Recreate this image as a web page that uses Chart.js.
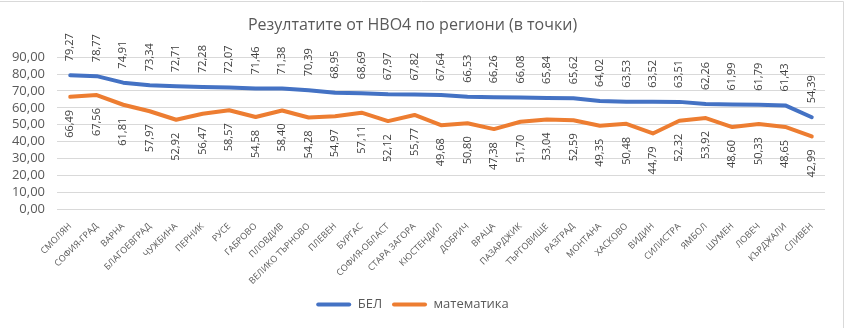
<!DOCTYPE html>
<html>
<head>
<meta charset="utf-8">
<script src="https://cdn.jsdelivr.net/npm/chart.js@4"></script>
<style>
  html, body { margin: 0; padding: 0; background: #fff; }
  #wrap { width: 847px; height: 328px; }
</style>
</head>
<body>
<div id="wrap"><canvas id="myChart" width="847" height="328"></canvas></div>
<script>
    const regions = ['СМОЛЯН', 'СОФИЯ-ГРАД', 'ВАРНА', 'БЛАГОЕВГРАД', 'ЧУЖБИНА', 'ПЕРНИК', 'РУСЕ', 'ГАБРОВО', 'ПЛОВДИВ',
        'ВЕЛИКО ТЪРНОВО', 'ПЛЕВЕН', 'БУРГАС', 'СОФИЯ-ОБЛАСТ', 'СТАРА ЗАГОРА', 'КЮСТЕНДИЛ', 'ДОБРИЧ', 'ВРАЦА', 'ПАЗАРДЖИК',
        'ТЪРГОВИЩЕ', 'РАЗГРАД', 'МОНТАНА', 'ХАСКОВО', 'ВИДИН', 'СИЛИСТРА', 'ЯМБОЛ', 'ШУМЕН', 'ЛОВЕЧ', 'КЪРДЖАЛИ', 'СЛИВЕН'];

    const belScores = [79.27, 78.77, 74.91, 73.34, 72.71, 72.28, 72.07, 71.46, 71.38, 70.39, 68.95, 68.69, 67.97, 67.82,
        67.64, 66.53, 66.26, 66.08, 65.84, 65.62, 64.02, 63.53, 63.52, 63.51, 62.26, 61.99, 61.79, 61.43, 54.39];

    const mathScores = [66.49, 67.56, 61.81, 57.97, 52.92, 56.47, 58.57, 54.58, 58.40, 54.28, 54.97, 57.11, 52.12, 55.77,
        49.68, 50.80, 47.38, 51.70, 53.04, 52.59, 49.35, 50.48, 44.79, 52.32, 53.92, 48.60, 50.33, 48.65, 42.99];

    const yMin = 0;
    const yMax = 90;
    const yStep = 10;

    const FONT = "'Open Sans', sans-serif";
    const TEXT = '#595959';

    const fmt = v => v.toFixed(2).replace('.', ',');

    // стойностите над/под линиите, завъртени на 90 градуса
    const valueLabels = {
        id: 'valueLabels',
        afterDatasetsDraw(chart) {
            const ctx = chart.ctx;
            ctx.save();
            ctx.font = '11px ' + FONT;
            ctx.fillStyle = '#404040';
            ctx.textBaseline = 'middle';
            chart.data.datasets.forEach((ds, i) => {
                const meta = chart.getDatasetMeta(i);
                meta.data.forEach((pt, j) => {
                    ctx.save();
                    if (i === 0) {
                        ctx.translate(pt.x, pt.y - 14);
                        ctx.rotate(-Math.PI / 2);
                        ctx.textAlign = 'left';
                    } else {
                        ctx.translate(pt.x, pt.y + 13);
                        ctx.rotate(-Math.PI / 2);
                        ctx.textAlign = 'right';
                    }
                    ctx.fillText(fmt(ds.data[j]), 0, 0);
                    ctx.restore();
                });
            });
            ctx.restore();
        }
    };

    const frame = {
        id: 'frame',
        afterDraw(chart) {
            const ctx = chart.ctx;
            ctx.save();
            ctx.strokeStyle = '#d9d9d9';
            ctx.lineWidth = 1;
            ctx.beginPath();
            ctx.moveTo(0, 1.5);
            ctx.lineTo(843.5, 1.5);
            ctx.lineTo(843.5, 328);
            ctx.stroke();
            ctx.restore();
        }
    };

    const ctx = document.getElementById('myChart').getContext('2d');
    new Chart(ctx, {
        type: 'line',
        data: {
            labels: regions,
            datasets: [
                {
                    label: 'БЕЛ',
                    data: belScores,
                    borderColor: '#4472C4',
                    backgroundColor: '#4472C4',
                    borderWidth: 4,
                    pointRadius: 0,
                    borderCapStyle: 'round',
                    borderJoinStyle: 'round',
                    fill: false
                },
                {
                    label: 'математика',
                    data: mathScores,
                    borderColor: '#ED7D31',
                    backgroundColor: '#ED7D31',
                    borderWidth: 4,
                    pointRadius: 0,
                    borderCapStyle: 'round',
                    borderJoinStyle: 'round',
                    fill: false
                }
            ]
        },
        options: {
            responsive: false,
            animation: false,
            layout: { padding: { left: 0, right: 22, top: 0, bottom: 7 } },
            plugins: {
                title: {
                    display: true,
                    text: 'Резултатите от НВО4 по региони (в точки)',
                    color: TEXT,
                    font: { family: FONT, size: 16, weight: 'normal' },
                    padding: { top: 16, bottom: 22 }
                },
                legend: {
                    position: 'bottom',
                    labels: {
                        color: TEXT,
                        font: { family: FONT, size: 13 },
                        boxWidth: 35,
                        boxHeight: 4,
                        padding: 10,
                        useBorderRadius: true,
                        borderRadius: 2,
                        generateLabels(chart) {
                            return Chart.defaults.plugins.legend.labels.generateLabels(chart).map(l => {
                                l.lineWidth = 0;
                                return l;
                            });
                        }
                    }
                },
                tooltip: { enabled: false }
            },
            scales: {
                x: {
                    offset: true,
                    grid: { display: false },
                    border: { display: false },
                    ticks: {
                        color: TEXT,
                        font: { family: FONT, size: 9 },
                        maxRotation: 45,
                        minRotation: 45,
                        autoSkip: false,
                        padding: 4
                    },
                    afterFit(scale) { scale.height = 79; }
                },
                y: {
                    min: yMin,
                    max: yMax,
                    grid: { color: '#d9d9d9', drawTicks: false },
                    border: { display: false },
                    ticks: {
                        stepSize: yStep,
                        autoSkip: false,
                        color: TEXT,
                        font: { family: FONT, size: 13 },
                        padding: 12,
                        callback: v => fmt(v)
                    },
                    afterFit(scale) { scale.width = 57; }
                }
            }
        },
        plugins: [valueLabels, frame]
    });
</script>
</body>
</html>
